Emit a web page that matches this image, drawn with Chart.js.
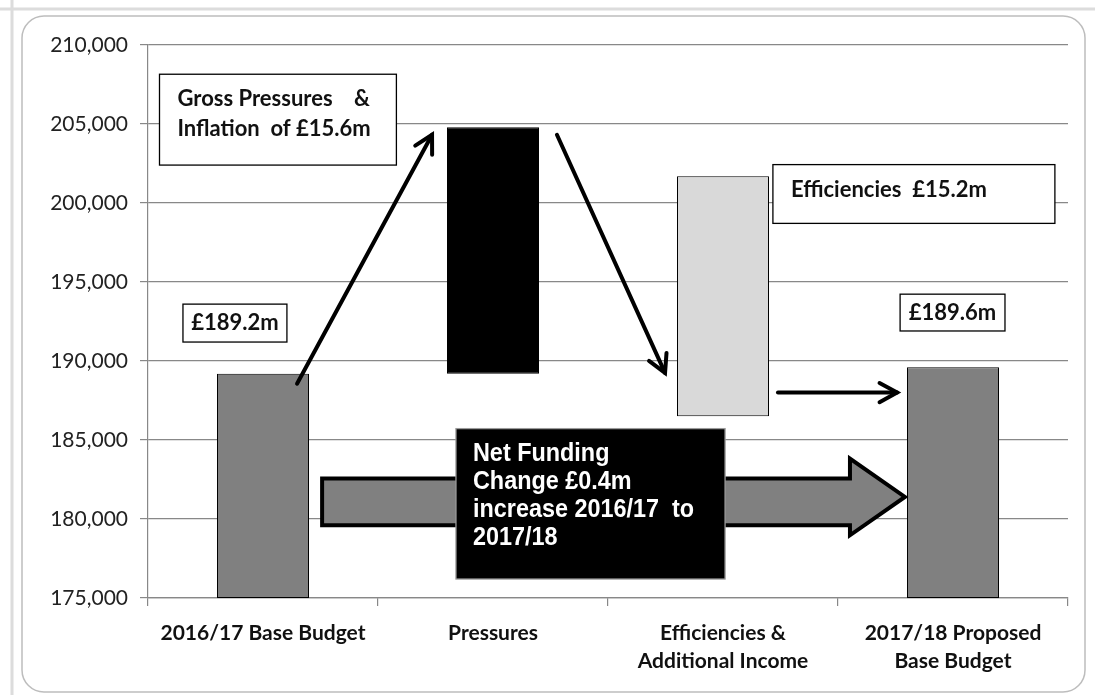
<!DOCTYPE html>
<html>
<head>
<meta charset="utf-8">
<script src="https://cdn.jsdelivr.net/npm/chart.js@4/dist/chart.umd.min.js"></script>
<style>
  html, body { margin: 0; padding: 0; background: #fff; }
  #wrap { width: 1095px; height: 695px; position: relative; }
</style>
</head>
<body>
<div id="wrap"><canvas id="budget-chart"></canvas></div>
<script>
// Données du graphe (en milliers de £)
const categories = [
    "2016/17 Base Budget",
    "Pressures",
    ["Efficiencies &", "Additional Income"],
    ["2017/18 Proposed", "Base Budget"]
]
const barStart = [175000, 189200, 186500, 175000]
const barEnd = [189200, 204800, 201700, 189600]
const barColors = ["#808080", "#000000", "#d9d9d9", "#808080"]
const yTicks = [175000, 180000, 185000, 190000, 195000, 200000, 205000, 210000]

const floating = barStart.map((s, i) => [s, barEnd[i]])

const FONT = "Lato, 'Open Sans', sans-serif"
const NARROW = "'Liberation Sans', Arial, sans-serif"

// position en "index de catégorie" -> pixel
function px(chart, xi) {
    const x = chart.scales.x
    const step = x.getPixelForValue(1) - x.getPixelForValue(0)
    return x.getPixelForValue(0) + xi * step
}
function py(chart, v) {
    return chart.scales.y.getPixelForValue(v)
}

function arrow(ctx, x1, y1, x2, y2) {
    const a = Math.atan2(y2 - y1, x2 - x1)
    const h = 20
    ctx.save()
    ctx.strokeStyle = "#000"
    ctx.lineWidth = 4
    ctx.lineCap = "round"
    ctx.beginPath()
    ctx.moveTo(x1, y1)
    ctx.lineTo(x2, y2)
    ctx.stroke()
    ctx.beginPath()
    ctx.moveTo(x2 - h * Math.cos(a - 0.5), y2 - h * Math.sin(a - 0.5))
    ctx.lineTo(x2, y2)
    ctx.lineTo(x2 - h * Math.cos(a + 0.5), y2 - h * Math.sin(a + 0.5))
    ctx.stroke()
    ctx.restore()
}

function textBox(chart, box, lines, opts) {
    const ctx = chart.ctx
    const l = px(chart, box[0]), r = px(chart, box[1])
    const t = py(chart, box[2]), b = py(chart, box[3])
    ctx.save()
    ctx.fillStyle = opts.fill || "#fff"
    ctx.fillRect(l, t, r - l, b - t)
    ctx.strokeStyle = opts.stroke || "#000"
    ctx.lineWidth = opts.lw || 1.3
    ctx.strokeRect(l, t, r - l, b - t)
    ctx.fillStyle = opts.color || "#111"
    ctx.font = opts.font
    ctx.textBaseline = "middle"
    ctx.textAlign = opts.center ? "center" : "left"
    const sx = opts.squeeze || 1
    lines.forEach((txt, i) => {
        const tx = opts.center ? (l + r) / 2 : l + opts.padX
        ctx.save()
        ctx.translate(tx, t + opts.padY + i * opts.lh)
        ctx.scale(sx, 1)
        ctx.fillText(txt, 0, 0)
        ctx.restore()
    })
    ctx.restore()
}

const annotations = {
    id: "annotations",
    beforeDraw(chart) {
        const ctx = chart.ctx
        ctx.save()
        ctx.fillStyle = "#fff"
        ctx.fillRect(0, 0, chart.width, chart.height)
        // cadre extérieur
        ctx.strokeStyle = "#dcdcdc"
        ctx.lineWidth = 3
        ctx.beginPath()
        ctx.moveTo(12, 0); ctx.lineTo(12, chart.height)
        ctx.moveTo(0, 9); ctx.lineTo(chart.width, 9)
        ctx.stroke()
        ctx.strokeStyle = "#bdbdbd"
        ctx.lineWidth = 1.5
        ctx.beginPath()
        ctx.roundRect(22, 16, 1063, 676, 22)
        ctx.stroke()
        ctx.restore()
    },
    afterDatasetsDraw(chart) {
        const ctx = chart.ctx

        // grosse flèche grise
        const xs = px(chart, 0.257), xh = px(chart, 2.552), xt = px(chart, 2.791)
        const s1 = py(chart, 182570), s2 = py(chart, 179600)
        const h1 = py(chart, 183830), h2 = py(chart, 178970)
        ctx.save()
        ctx.beginPath()
        ctx.moveTo(xs, s1)
        ctx.lineTo(xh, s1)
        ctx.lineTo(xh, h1)
        ctx.lineTo(xt, (h1 + h2) / 2)
        ctx.lineTo(xh, h2)
        ctx.lineTo(xh, s2)
        ctx.lineTo(xs, s2)
        ctx.closePath()
        ctx.fillStyle = "#808080"
        ctx.fill()
        ctx.strokeStyle = "#000"
        ctx.lineWidth = 4
        ctx.lineJoin = "miter"
        ctx.stroke()
        ctx.restore()

        // flèches fines
        arrow(ctx, px(chart, 0.148), py(chart, 188560), px(chart, 0.735), py(chart, 204320))
        arrow(ctx, px(chart, 1.278), py(chart, 204320), px(chart, 1.748), py(chart, 189250))
        arrow(ctx, px(chart, 2.239), py(chart, 188000), px(chart, 2.757), py(chart, 188000))

        // boîtes de texte
        textBox(chart, [-0.45, 0.58, 208150, 202400],
            ["Gross Pressures    &", "Inflation  of £15.6m"],
            { font: "bold 22px " + FONT, padX: 18, padY: 25, lh: 30 })
        textBox(chart, [-0.348, 0.104, 193600, 191200], ["£189.2m"],
            { font: "bold 22px " + FONT, center: true, padY: 19, lh: 0 })
        textBox(chart, [2.217, 3.443, 202430, 198710], ["Efficiencies  £15.2m"],
            { font: "bold 22px " + FONT, padX: 18, padY: 25, lh: 0 })
        textBox(chart, [2.77, 3.226, 194230, 191900], ["£189.6m"],
            { font: "bold 22px " + FONT, center: true, padY: 19, lh: 0 })
        textBox(chart, [0.839, 2.009, 185720, 176200],
            ["Net Funding", "Change £0.4m", "increase 2016/17  to", "2017/18"],
            { font: "bold 26px " + NARROW, fill: "#000", stroke: "#9a9a9a", color: "#fff",
              padX: 17, padY: 25, lh: 28, squeeze: 0.9 })
    }
}

new Chart(document.getElementById("budget-chart"), {
    type: "bar",
    data: {
        labels: categories,
        datasets: [{
            label: "Budget",
            data: floating,
            backgroundColor: barColors,
            borderColor: "#000",
            borderWidth: 1,
            borderSkipped: false,
            barPercentage: 0.4,
            categoryPercentage: 1
        }]
    },
    options: {
        responsive: true,
        maintainAspectRatio: false,
        animation: false,
        layout: { padding: { left: 22, right: 27, top: 45, bottom: 0 } },
        plugins: {
            legend: { display: false },
            tooltip: { enabled: false }
        },
        scales: {
            x: {
                offset: true,
                grid: { offset: true, drawOnChartArea: false, drawTicks: true, tickLength: 8, color: "#888", lineWidth: 1.2 },
                border: { color: "#888", width: 1.2 },
                ticks: { color: "#111", padding: 13, font: { family: FONT, size: 21, weight: "bold", lineHeight: 1.35 } },
                afterFit: s => { s.height = 97 }
            },
            y: {
                min: 175000,
                max: 210000,
                afterBuildTicks: s => { s.ticks = yTicks.map(v => ({ value: v })) },
                grid: { color: "#888", lineWidth: 1.2, tickLength: 8 },
                border: { color: "#888", width: 1.2 },
                ticks: {
                    color: "#222",
                    padding: 12,
                    font: { family: FONT, size: 21 },
                    callback: v => v.toLocaleString("en-GB")
                },
                afterFit: s => { s.width = 126 }
            }
        }
    },
    plugins: [annotations]
})
</script>
</body>
</html>
